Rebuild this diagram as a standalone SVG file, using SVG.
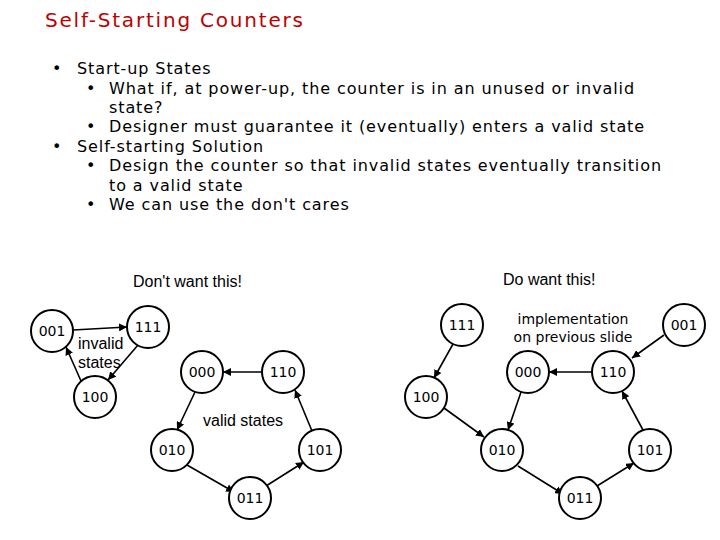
<svg xmlns="http://www.w3.org/2000/svg" width="720" height="540" viewBox="0 0 720 540">
<style>
.t{font-family:"DejaVu Sans",sans-serif;font-size:16px;fill:#000;letter-spacing:0.9px}
.h{font-family:"Liberation Sans",sans-serif;font-size:16px;fill:#000}
.n circle{fill:#fff;stroke:#000;stroke-width:2}
.n text{font-family:"DejaVu Sans",sans-serif;font-size:14px;fill:#000;text-anchor:middle}
#edges line{stroke:#000;stroke-width:1.6;marker-end:url(#a)}
</style>
<defs><marker id="a" viewBox="0 0 10 10" refX="10" refY="5" markerWidth="5" markerHeight="5" orient="auto"><path d="M0,0L10,5L0,10z"/></marker></defs>
<rect width="720" height="540" fill="#fff"/>
<text x="45" y="27" font-family="DejaVu Sans,sans-serif" font-size="20" fill="#c00000" letter-spacing="1.8">Self-Starting Counters</text>
<g class="t">
<text x="52" y="74">•</text><text x="77" y="74">Start-up States</text>
<text x="86" y="94">•</text><text x="109" y="94">What if, at power-up, the counter is in an unused or invalid</text>
<text x="109" y="113">state?</text>
<text x="86" y="132">•</text><text x="109" y="132">Designer must guarantee it (eventually) enters a valid state</text>
<text x="52" y="152">•</text><text x="77" y="152">Self-starting Solution</text>
<text x="86" y="171">•</text><text x="109" y="171">Design the counter so that invalid states eventually transition</text>
<text x="109" y="191">to a valid state</text>
<text x="86" y="210">•</text><text x="109" y="210">We can use the don't cares</text>
</g>
<text class="h" x="133" y="287">Don't want this!</text>
<text class="h" x="503" y="285">Do want this!</text>
<text class="h" x="78" y="349">invalid</text>
<text class="h" x="78" y="368">states</text>
<text class="h" x="203" y="426">valid states</text>
<text x="573" y="324" font-family="DejaVu Sans,sans-serif" font-size="14" text-anchor="middle">implementation</text>
<text x="573" y="342" font-family="DejaVu Sans,sans-serif" font-size="14" text-anchor="middle">on previous slide</text>
<g id="edges">
<line x1="73" y1="330" x2="127" y2="327"/>
<line x1="138" y1="345" x2="108" y2="380"/>
<line x1="81" y1="381" x2="66" y2="347"/>
<line x1="195" y1="392" x2="177" y2="430"/>
<line x1="187" y1="465" x2="234" y2="492"/>
<line x1="266" y1="486" x2="304" y2="462"/>
<line x1="312" y1="431" x2="295" y2="390"/>
<line x1="262" y1="372" x2="223" y2="372"/>
<line x1="453" y1="344" x2="434" y2="378"/>
<line x1="444" y1="408" x2="484" y2="437"/>
<line x1="521" y1="392" x2="508" y2="430"/>
<line x1="518" y1="466" x2="563" y2="494"/>
<line x1="597" y1="486" x2="634" y2="463"/>
<line x1="643" y1="430" x2="622" y2="391"/>
<line x1="592" y1="372" x2="549" y2="372"/>
<line x1="664" y1="335" x2="632" y2="358"/>
</g>
<g id="l001" class="n"><circle cx="52" cy="331" r="21"/><text x="52" y="336">001</text></g>
<g id="l111" class="n"><circle cx="148" cy="327" r="21"/><text x="148" y="332">111</text></g>
<g id="l100" class="n"><circle cx="95" cy="397" r="21"/><text x="95" y="402">100</text></g>
<g id="l000" class="n"><circle cx="202" cy="372" r="21"/><text x="202" y="377">000</text></g>
<g id="l110" class="n"><circle cx="283" cy="372" r="21"/><text x="283" y="377">110</text></g>
<g id="l010" class="n"><circle cx="172" cy="450" r="21"/><text x="172" y="455">010</text></g>
<g id="l101" class="n"><circle cx="320" cy="450" r="21"/><text x="320" y="455">101</text></g>
<g id="l011" class="n"><circle cx="250" cy="498" r="21"/><text x="250" y="503">011</text></g>
<g id="r111" class="n"><circle cx="462" cy="325" r="21"/><text x="462" y="330">111</text></g>
<g id="r001" class="n"><circle cx="684" cy="325" r="21"/><text x="684" y="330">001</text></g>
<g id="r100" class="n"><circle cx="426" cy="397" r="21"/><text x="426" y="402">100</text></g>
<g id="r000" class="n"><circle cx="528" cy="372" r="21"/><text x="528" y="377">000</text></g>
<g id="r110" class="n"><circle cx="613" cy="372" r="21"/><text x="613" y="377">110</text></g>
<g id="r010" class="n"><circle cx="502" cy="450" r="21"/><text x="502" y="455">010</text></g>
<g id="r101" class="n"><circle cx="650" cy="450" r="21"/><text x="650" y="455">101</text></g>
<g id="r011" class="n"><circle cx="580" cy="498" r="21"/><text x="580" y="503">011</text></g>
</svg>
